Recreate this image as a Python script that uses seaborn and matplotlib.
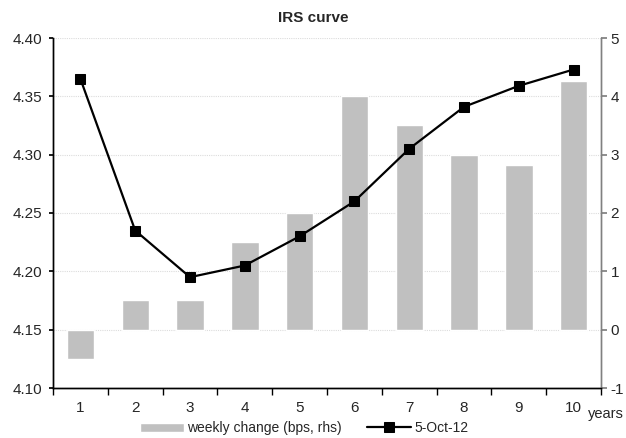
import matplotlib
matplotlib.use("Agg")
import matplotlib.pyplot as plt
from matplotlib.ticker import FixedLocator, FormatStrFormatter
import seaborn as sns
import pandas as pd

# Swap tenors (years)
tenors = [1, 2, 3, 4, 5, 6, 7, 8, 9, 10]
# Weekly change in bps (right-hand scale)
weekly_change = [-0.5, 0.5, 0.5, 1.5, 2.0, 4.0, 3.5, 3.0, 2.83, 4.26]
# IRS curve level on 5-Oct-12 (left-hand scale)
irs_level = [4.365, 4.235, 4.195, 4.205, 4.230, 4.260, 4.305, 4.341, 4.359, 4.373]

left_ticks = [4.10, 4.15, 4.20, 4.25, 4.30, 4.35, 4.40]
right_ticks = [-1, 0, 1, 2, 3, 4, 5]

sns.set_theme(style="white")
plt.rcParams["font.family"] = ["Liberation Sans", "DejaVu Sans"]

df = pd.DataFrame({"tenor": [str(t) for t in tenors],
                   "change": weekly_change,
                   "level": irs_level})
df["pos"] = range(len(df))

fig = plt.figure(figsize=(6.26, 4.38), dpi=100)
ax = fig.add_axes([53 / 626, 1 - 388 / 438, 548 / 626, 350 / 438])

# Bars on the base axes (right-hand scale)
sns.barplot(data=df, x="tenor", y="change", color="#c0c0c0", width=0.5,
            saturation=1, ax=ax, label="weekly change (bps, rhs)", zorder=2)
ax.set_ylim(-1, 5)
ax.set_xlim(-0.5, len(df) - 0.5)
if ax.get_legend() is not None:
    ax.get_legend().remove()

# Line on the twin axes (left-hand scale)
ax2 = ax.twinx()
sns.lineplot(data=df, x="pos", y="level", color="black", linewidth=1.6,
             marker="s", markersize=6.5, markeredgecolor="black",
             ax=ax2, label="5-Oct-12", zorder=3)
ax2.set_ylim(4.10, 4.40)
ax2.set_xlim(-0.5, len(df) - 0.5)
if ax2.get_legend() is not None:
    ax2.get_legend().remove()

# Left scale for the line, right scale for the bars
ax.yaxis.tick_right()
ax.yaxis.set_label_position("right")
ax2.yaxis.tick_left()
ax2.yaxis.set_label_position("left")

ax.set_yticks(right_ticks)
ax.set_yticklabels([str(v) for v in right_ticks])
ax2.yaxis.set_major_locator(FixedLocator(left_ticks))
ax2.yaxis.set_major_formatter(FormatStrFormatter("%.2f"))

# Dotted light grid
ax.grid(axis="y", color="#dcdcdc", linestyle=(0, (1, 1)), linewidth=0.8, zorder=0)
ax.set_axisbelow(True)

ax.set_xlabel("")
ax.set_ylabel("")
ax2.set_xlabel("")
ax2.set_ylabel("")

for a in (ax, ax2):
    a.spines["top"].set_visible(False)
    a.spines["left"].set_color("black")
    a.spines["bottom"].set_color("black")
    a.spines["right"].set_color("#808080")
    for s in ("left", "bottom", "right"):
        a.spines[s].set_linewidth(1.0)

ax2.spines["left"].set_visible(True)
ax.tick_params(axis="y", which="major", right=True, left=False, length=4,
               color="#808080", direction="out", labelsize=11, pad=3)
ax2.tick_params(axis="y", which="major", left=True, right=False, length=3,
                color="black", direction="out", labelsize=11, pad=5)
ax2.tick_params(axis="x", bottom=False, labelbottom=False)

# Category ticks sit between the bars
ax.set_xticks([p + 0.5 for p in range(len(df) - 1)] + [-0.5, len(df) - 0.5], minor=True)
ax.tick_params(axis="x", which="minor", bottom=True, length=5, color="black", direction="out")
ax.tick_params(axis="x", which="major", bottom=False, length=0, labelsize=11, pad=9)

fig.text(0.5, 1 - 18 / 438, "IRS curve", ha="center", va="center",
         fontsize=11, fontweight="bold")
fig.text(588 / 626, 1 - 414 / 438, "years", ha="left", va="center", fontsize=10.5)

h1, l1 = ax.get_legend_handles_labels()
h2, l2 = ax2.get_legend_handles_labels()
fig.legend(h1 + h2, l1 + l2, loc="center", bbox_to_anchor=(304 / 626, 1 - 428 / 438),
           ncol=2, frameon=False, fontsize=10, handlelength=3.2, handleheight=0.6,
           handletextpad=0.2, columnspacing=1.8, borderpad=0)

fig.savefig("out.png", dpi=100)
